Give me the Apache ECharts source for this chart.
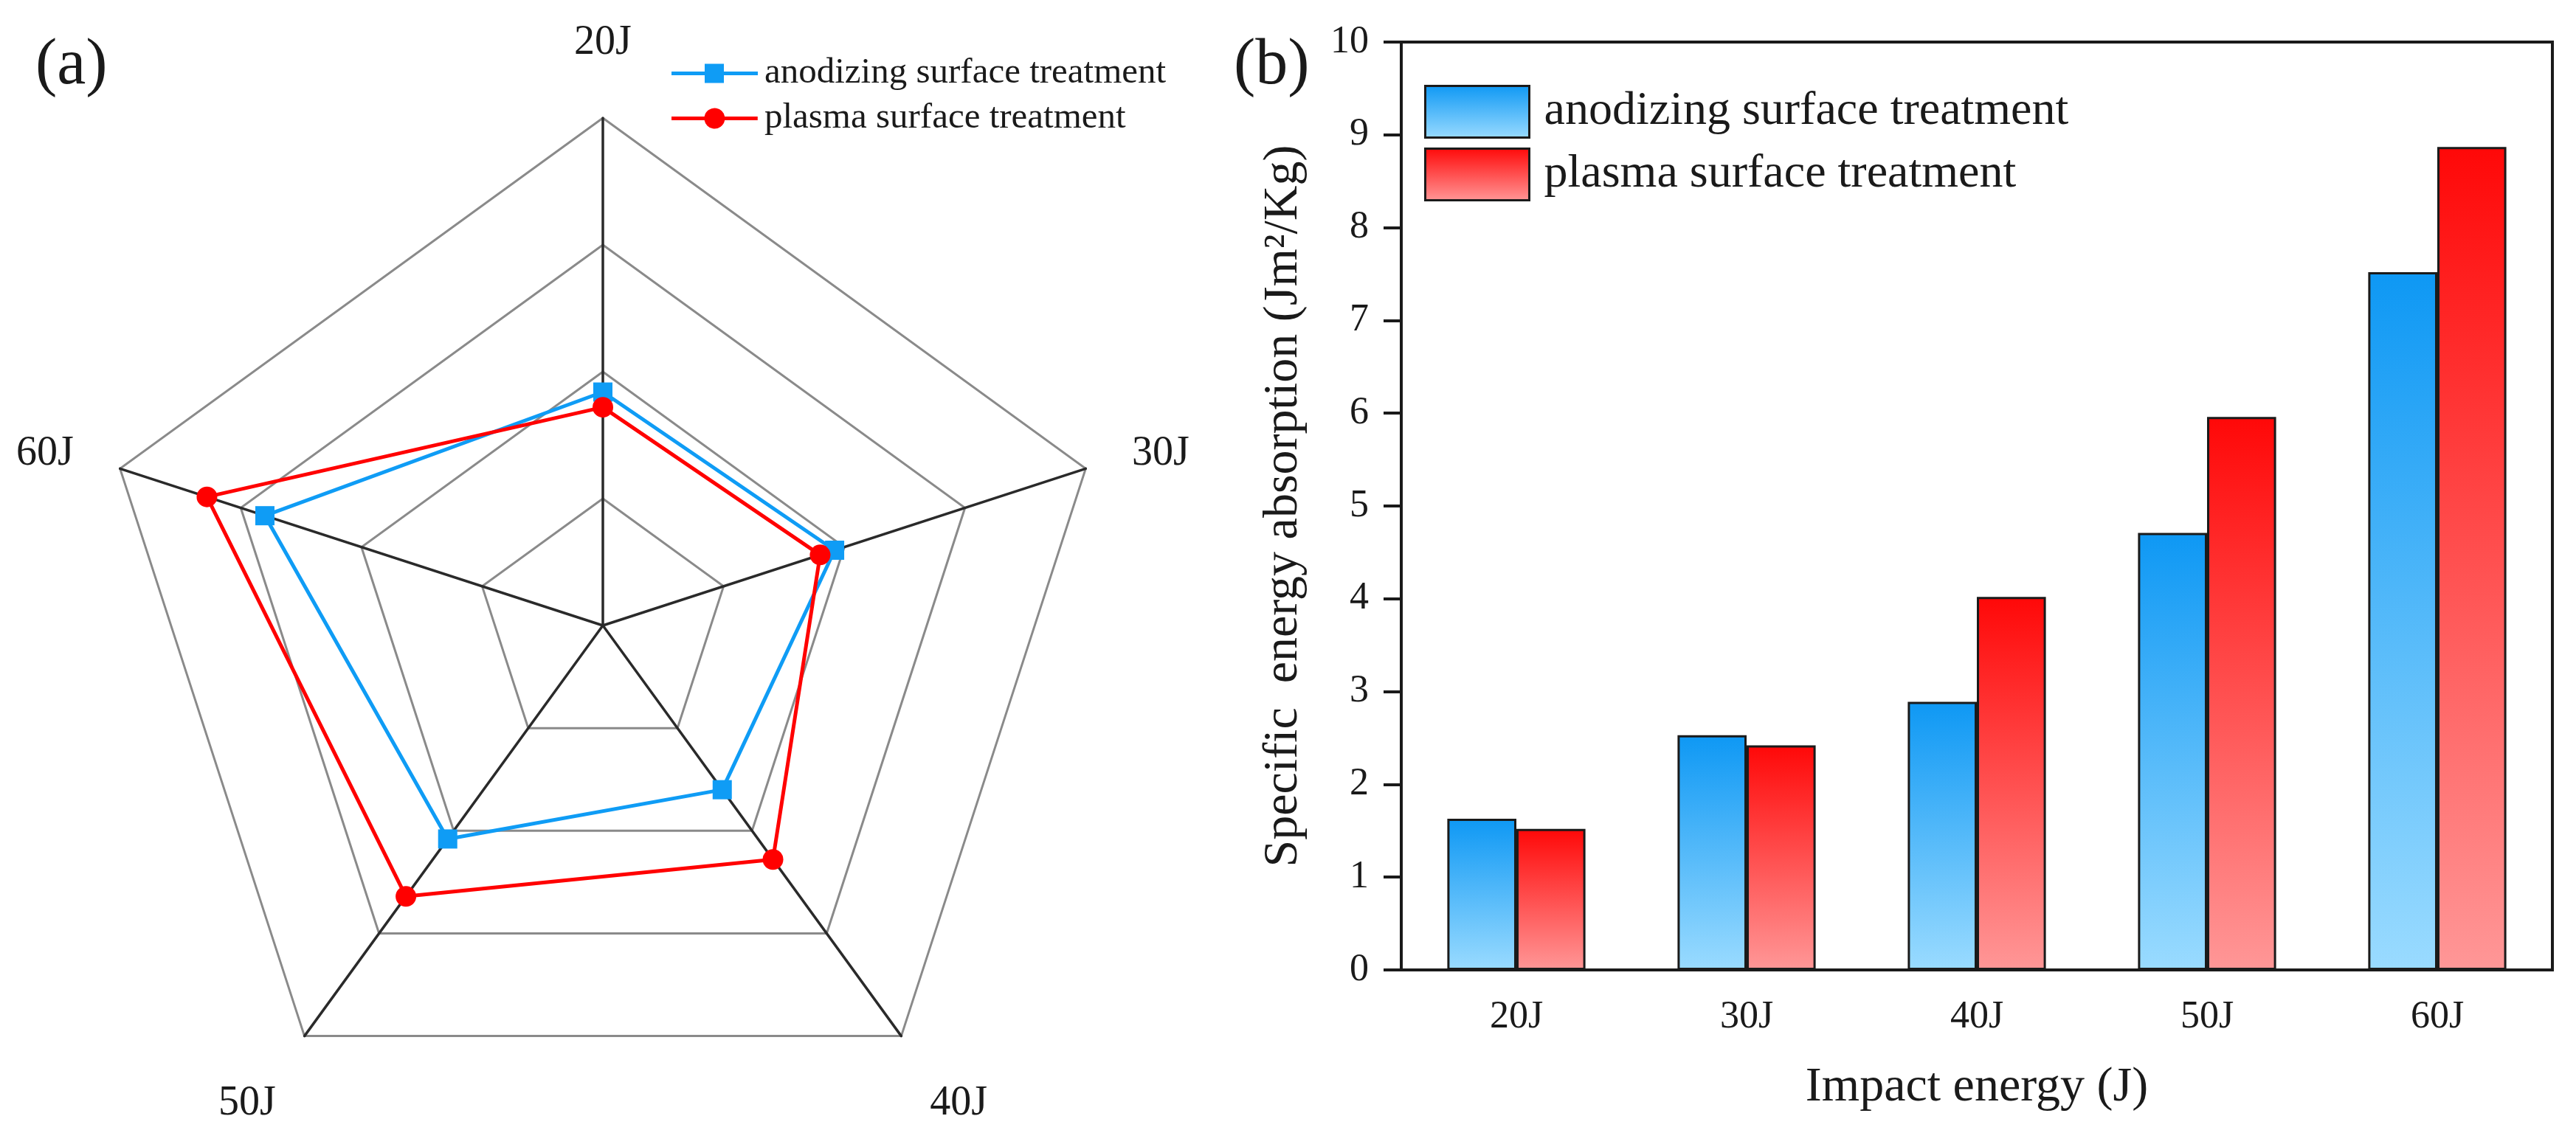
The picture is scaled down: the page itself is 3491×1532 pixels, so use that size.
<!DOCTYPE html>
<html>
<head>
<meta charset="utf-8">
<script src="https://cdn.jsdelivr.net/npm/echarts@6/dist/echarts.min.js"></script>
<style>
html,body{margin:0;padding:0;background:#fff;}
#c{width:3491px;height:1532px;}
</style>
</head>
<body>
<div id="c"></div>
<script>
// ---- data ----
const categories = ['20J', '30J', '40J', '50J', '60J'];
const seriesNames = ['anodizing surface treatment', 'plasma surface treatment'];
// (b) specific energy absorption (Jm2/Kg)
const anodizingSEA = [1.63, 2.53, 2.89, 4.71, 7.52];
const plasmaSEA = [1.52, 2.42, 4.02, 5.96, 8.87];
// (a) radar values (relative scale, max 100)
const anodizingRadar = [46, 48, 40, 52, 70];
const plasmaRadar = [43, 45, 57, 66, 82];
const radarMax = 100;
const yMin = 0, yMax = 10, yInterval = 1;

const FONT = 'Liberation Serif';
const BLUE = '#0F9CF5', RED = '#FF0000';

// radar goes counter-clockwise in ECharts; reverse (keeping 20J first) for clockwise look
function clockwiseOrder(arr) { return [arr[0]].concat(arr.slice(1).reverse()); }

const blueGrad = {type:'linear', x:0, y:0, x2:0, y2:1, colorStops:[{offset:0,color:'#0E98F4'},{offset:1,color:'#9ADBFF'}]};
const redGrad = {type:'linear', x:0, y:0, x2:0, y2:1, colorStops:[{offset:0,color:'#FF0808'},{offset:1,color:'#FF9797'}]};

const squareLineIcon = 'path://M0,10.5L45,10.5L45,0L71,0L71,10.5L117,10.5L117,15.5L71,15.5L71,26L45,26L45,15.5L0,15.5Z';
const circleLineIcon = 'path://M0,11.5L44.72,11.5A14,14,0,0,1,72.28,11.5L117,11.5L117,16.5L72.28,16.5A14,14,0,0,1,44.72,16.5L0,16.5Z';

const chart = echarts.init(document.getElementById('c'), null, {renderer:'canvas', devicePixelRatio:1});

const nameStyle = {fontFamily: FONT, fontSize: 56, color:'#1a1a1a'};

const option = {
  backgroundColor: '#ffffff',
  animation: false,
  textStyle: {fontFamily: FONT, color: '#1a1a1a'},
  title: [
    {text:'(a)', left:48, top:46, padding:0, textStyle:{fontFamily:FONT, fontSize:88, fontWeight:'normal', color:'#1a1a1a'}},
    {text:'(b)', left:1672, top:46, padding:0, textStyle:{fontFamily:FONT, fontSize:88, fontWeight:'normal', color:'#1a1a1a'}}
  ],
  legend: [
    {
      left: 910, top: 75, padding: 0, orient:'vertical',
      itemWidth: 117, itemHeight: 26, selectedMode: false,
      textStyle: {fontFamily: FONT, fontSize: 49, color:'#1a1a1a', lineHeight: 26, padding:[0,0,0,4]},
      data: [{name: seriesNames[0], icon: squareLineIcon, itemStyle:{color: BLUE, borderWidth:0, borderColor:'transparent'}}]
    },
    {
      left: 910, top: 136, padding: 0, orient:'vertical',
      itemWidth: 117, itemHeight: 28, selectedMode: false,
      textStyle: {fontFamily: FONT, fontSize: 49, color:'#1a1a1a', lineHeight: 28, padding:[0,0,0,4]},
      data: [{name: seriesNames[1], icon: circleLineIcon, itemStyle:{color: RED, borderWidth:0, borderColor:'transparent'}}]
    },
    {
      left: 1930, top: 115, padding: 0, orient: 'vertical',
      itemWidth: 141, itemHeight: 70, itemGap: 12, selectedMode: false,
      textStyle: {fontFamily: FONT, fontSize: 64, color:'#1a1a1a', padding:[0,0,0,15]},
      data: [
        {name: seriesNames[0], icon:'rect', itemStyle:{color: blueGrad, borderColor:'#1a1a1a', borderWidth:3}},
        {name: seriesNames[1], icon:'rect', itemStyle:{color: redGrad, borderColor:'#1a1a1a', borderWidth:3}}
      ]
    }
  ],
  radar: {
    center: [817, 848],
    radius: 688,
    startAngle: 90,
    splitNumber: 4,
    shape: 'polygon',
    axisNameGap: 66,
    indicator: clockwiseOrder(categories).map(function(n){ return {name:n, max:radarMax, min:0}; }),
    axisName: {
      color: '#1a1a1a', fontFamily: FONT, fontSize: 56,
      formatter: function(name){
        if (name === '40J' || name === '50J') return '{low|' + name + '}';
        if (name === '20J') return '{top|' + name + '}';
        return name;
      },
      rich: {
        low: Object.assign({padding:[76,0,0,0]}, nameStyle),
        top: Object.assign({padding:[0,0,8,0]}, nameStyle)
      }
    },
    axisLine: {show: true, lineStyle: {color:'#2a2a2a', width: 3.5}},
    splitLine: {show: true, lineStyle: {color:'#8a8a8a', width: 3}},
    splitArea: {show: false},
    axisTick: {show: false},
    axisLabel: {show: false}
  },
  grid: {
    left: 1899, top: 57, width: 1560, height: 1258,
    show: true, borderColor: '#1a1a1a', borderWidth: 4, backgroundColor:'#ffffff',
    containLabel: false
  },
  xAxis: {
    type: 'category',
    data: categories,
    name: 'Impact energy (J)',
    nameLocation: 'middle',
    nameGap: 127,
    nameTextStyle: {fontFamily: FONT, fontSize: 66, color:'#1a1a1a'},
    axisLine: {lineStyle: {color:'#1a1a1a', width: 4}},
    axisTick: {alignWithLabel: true, length: 24, lineStyle:{color:'#1a1a1a', width:4}},
    axisLabel: {fontFamily: FONT, fontSize: 52, color:'#1a1a1a', margin: 38},
    splitLine: {show: false}
  },
  yAxis: {
    type: 'value',
    min: yMin, max: yMax, interval: yInterval,
    name: 'Specific  energy absorption (Jm\u00B2/Kg)',
    nameLocation: 'middle',
    nameGap: 126,
    nameRotate: 90,
    nameTextStyle: {fontFamily: FONT, fontSize: 66, color:'#1a1a1a'},
    axisLine: {show: true, lineStyle: {color:'#1a1a1a', width: 4}},
    axisTick: {show: true, length: 24, lineStyle:{color:'#1a1a1a', width:4}},
    axisLabel: {fontFamily: FONT, fontSize: 52, color:'#1a1a1a', margin: 44},
    splitLine: {show: false}
  },
  series: [
    {
      name: seriesNames[0], type: 'bar', data: anodizingSEA,
      barGap: '0%', barCategoryGap: '40%',
      itemStyle: {color: blueGrad, borderColor:'#1a1a1a', borderWidth: 3}
    },
    {
      name: seriesNames[1], type: 'bar', data: plasmaSEA,
      barGap: '0%', barCategoryGap: '40%',
      itemStyle: {color: redGrad, borderColor:'#1a1a1a', borderWidth: 3}
    },
    {
      type: 'radar',
      name: 'radar',
      data: [
        {name: seriesNames[0], value: clockwiseOrder(anodizingRadar), symbol:'rect', symbolSize: 26,
         lineStyle:{color: BLUE, width: 5}, itemStyle:{color: BLUE}},
        {name: seriesNames[1], value: clockwiseOrder(plasmaRadar), symbol:'circle', symbolSize: 28,
         lineStyle:{color: RED, width: 5}, itemStyle:{color: RED}}
      ]
    }
  ]
};
chart.setOption(option);
</script>
</body>
</html>
